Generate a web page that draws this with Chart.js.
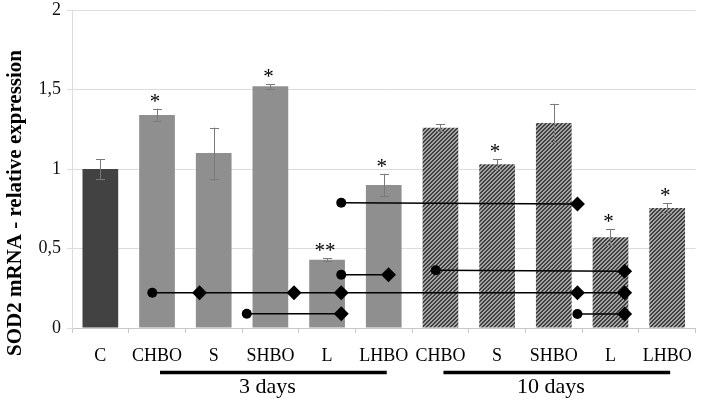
<!DOCTYPE html>
<html>
<head>
<meta charset="utf-8">
<script src="https://cdn.jsdelivr.net/npm/chart.js@4.4.1/dist/chart.umd.min.js"></script>
<style>
  html, body { margin: 0; padding: 0; background: #fff; }
  #wrap { width: 703px; height: 404px; }
</style>
</head>
<body>
<div id="wrap"><canvas id="c" width="703" height="404"></canvas></div>
<script>
// ---- data ----
const categories = ['C', 'CHBO', 'S', 'SHBO', 'L', 'LHBO', 'CHBO', 'S', 'SHBO', 'L', 'LHBO'];
const values = [1.00, 1.34, 1.10, 1.52, 0.43, 0.90, 1.26, 1.03, 1.29, 0.57, 0.755];
const errors = [0.06, 0.04, 0.16, 0.015, 0.01, 0.07, 0.02, 0.03, 0.12, 0.05, 0.03];
const stars = ['', '*', '', '*', '**', '*', '', '*', '', '*', '*'];
const yTickLabels = ['0', '0,5', '1', '1,5', '2'];
const axisTitle = 'SOD2 mRNA - relative expression';
const groupLabels = ['3 days', '10 days'];
const groupFrom = [1, 6];
const groupTo = [5, 10];
const groupMid = [3, 8];

// connectors: category indices and y values (first point = circle, others = diamonds)
const conn1X = [0, 1, 3, 4, 9, 10];
const conn1Y = [0.222, 0.222, 0.222, 0.222, 0.222, 0.222];
const conn2X = [2, 4];
const conn2Y = [0.09, 0.09];
const conn3X = [4, 9];
const conn3Y = [0.788, 0.78];
const conn4X = [4, 5];
const conn4Y = [0.335, 0.335];
const conn5X = [6, 10];
const conn5Y = [0.363, 0.357];
const conn6X = [9, 10];
const conn6Y = [0.088, 0.088];

// ---- style ----
const SERIF = "'Liberation Serif', 'Times New Roman', serif";
const MARK_SHIFT = 0.1;

function hatchCanvas() {
  const s = 4;
  const cv = document.createElement('canvas');
  cv.width = s; cv.height = s;
  const g = cv.getContext('2d');
  g.fillStyle = '#a4a4a4';
  g.fillRect(0, 0, s, s);
  g.fillStyle = '#404040';
  for (let x = 0; x < s; x++) {
    for (let y = 0; y < s; y++) {
      const k = (x + y) % s;
      if (k === 0 || k === 1) g.fillRect(x, y, 1, 1);
    }
  }
  return cv;
}
const ctx = document.getElementById('c').getContext('2d');
const hatch = ctx.createPattern(hatchCanvas(), 'repeat');

const barColors = categories.map((c, i) => i === 0 ? '#424242' : (i <= 5 ? '#8f8f8f' : hatch));

function connector(xs, ys) {
  return {
    type: 'line',
    xAxisID: 'x2',
    data: xs.map((x, i) => ({ x: x + MARK_SHIFT, y: ys[i] })),
    borderColor: '#000',
    borderWidth: 1.6,
    pointStyle: xs.map((x, i) => i === 0 ? 'circle' : 'rectRot'),
    pointRadius: xs.map((x, i) => i === 0 ? 5 : 7.5),
    pointBackgroundColor: '#000',
    pointBorderColor: '#000',
    pointBorderWidth: 0,
    tension: 0,
    order: 0
  };
}

const overlay = {
  id: 'overlay',
  afterDatasetDraw(chart, args) {
    if (args.index !== 0) return;
    const c = chart.ctx;
    const ys = chart.scales.y;
    const meta = args.meta;
    c.save();
    c.strokeStyle = '#7a7a7a';
    c.lineWidth = 1;
    meta.data.forEach((bar, i) => {
      const x = Math.round(bar.x) + 0.5;
      const top = ys.getPixelForValue(values[i] + errors[i]);
      const bot = ys.getPixelForValue(values[i] - errors[i]);
      c.beginPath();
      c.moveTo(x, top); c.lineTo(x, bot);
      c.moveTo(x - 4.5, Math.round(top) + 0.5); c.lineTo(x + 4.5, Math.round(top) + 0.5);
      c.moveTo(x - 4.5, Math.round(bot) + 0.5); c.lineTo(x + 4.5, Math.round(bot) + 0.5);
      c.stroke();
    });
    c.restore();
  },
  afterDraw(chart) {
    const c = chart.ctx;
    const xs = chart.scales.x;
    const ys = chart.scales.y;
    c.save();
    // stars
    c.fillStyle = '#000';
    c.font = '21px ' + SERIF;
    c.textAlign = 'center';
    c.textBaseline = 'alphabetic';
    stars.forEach((s, i) => {
      if (!s) return;
      const x = xs.getPixelForValue(i) - 2;
      const top = ys.getPixelForValue(values[i] + errors[i]);
      c.fillText(s, x, top - 1);
    });
    // axis title
    c.save();
    c.translate(21, 203);
    c.rotate(-Math.PI / 2);
    c.font = 'bold 21px ' + SERIF;
    c.textAlign = 'center';
    c.textBaseline = 'alphabetic';
    c.fillText(axisTitle, 0, 0);
    c.restore();
    // groups
    groupLabels.forEach((g, k) => {
      const x1 = xs.getPixelForValue(groupFrom[k]) + 3;
      const x2 = xs.getPixelForValue(groupTo[k]) + 3;
      c.strokeStyle = '#000';
      c.lineWidth = 3.5;
      c.beginPath();
      c.moveTo(x1, 372.5); c.lineTo(x2, 372.5);
      c.stroke();
      c.font = '22px ' + SERIF;
      c.textAlign = 'center';
      c.fillText(g, xs.getPixelForValue(groupMid[k]) - 3, 393);
    });
    c.restore();
  }
};

new Chart(ctx, {
  type: 'bar',
  data: {
    labels: categories,
    datasets: [
      {
        type: 'bar',
        data: values,
        backgroundColor: barColors,
        borderWidth: 0,
        grouped: false,
        categoryPercentage: 1,
        barPercentage: 0.63,
        order: 1
      },
      connector(conn1X, conn1Y),
      connector(conn2X, conn2Y),
      connector(conn3X, conn3Y),
      connector(conn4X, conn4Y),
      connector(conn5X, conn5Y),
      connector(conn6X, conn6Y)
    ]
  },
  options: {
    responsive: false,
    animation: false,
    events: [],
    layout: { padding: { left: 0, right: 5, top: 10, bottom: 0 } },
    plugins: { legend: { display: false }, tooltip: { enabled: false } },
    scales: {
      x: {
        type: 'category',
        offset: true,
        grid: { display: true, drawOnChartArea: false, drawTicks: true, tickLength: 5, color: '#c8c8c8', offset: true },
        border: { display: true, color: '#c8c8c8' },
        ticks: { color: '#000', font: { family: SERIF, size: 18 }, padding: 12, maxRotation: 0, autoSkip: false },
        afterFit(s) { s.height = 76; s.paddingLeft = 0; s.paddingRight = 0; }
      },
      x2: {
        type: 'linear',
        display: false,
        min: -0.5,
        max: 10.5
      },
      y: {
        min: 0,
        max: 2,
        ticks: {
          stepSize: 0.5,
          color: '#111',
          font: { family: SERIF, size: 18 },
          padding: 6,
          callback: (v, i) => yTickLabels[i]
        },
        grid: { color: '#dcdcdc', tickLength: 5, drawTicks: true },
        border: { display: true, color: '#dcdcdc' },
        afterFit(s) { s.width = 72; s.paddingTop = 0; s.paddingBottom = 0; }
      }
    }
  },
  plugins: [overlay]
});
</script>
</body>
</html>
